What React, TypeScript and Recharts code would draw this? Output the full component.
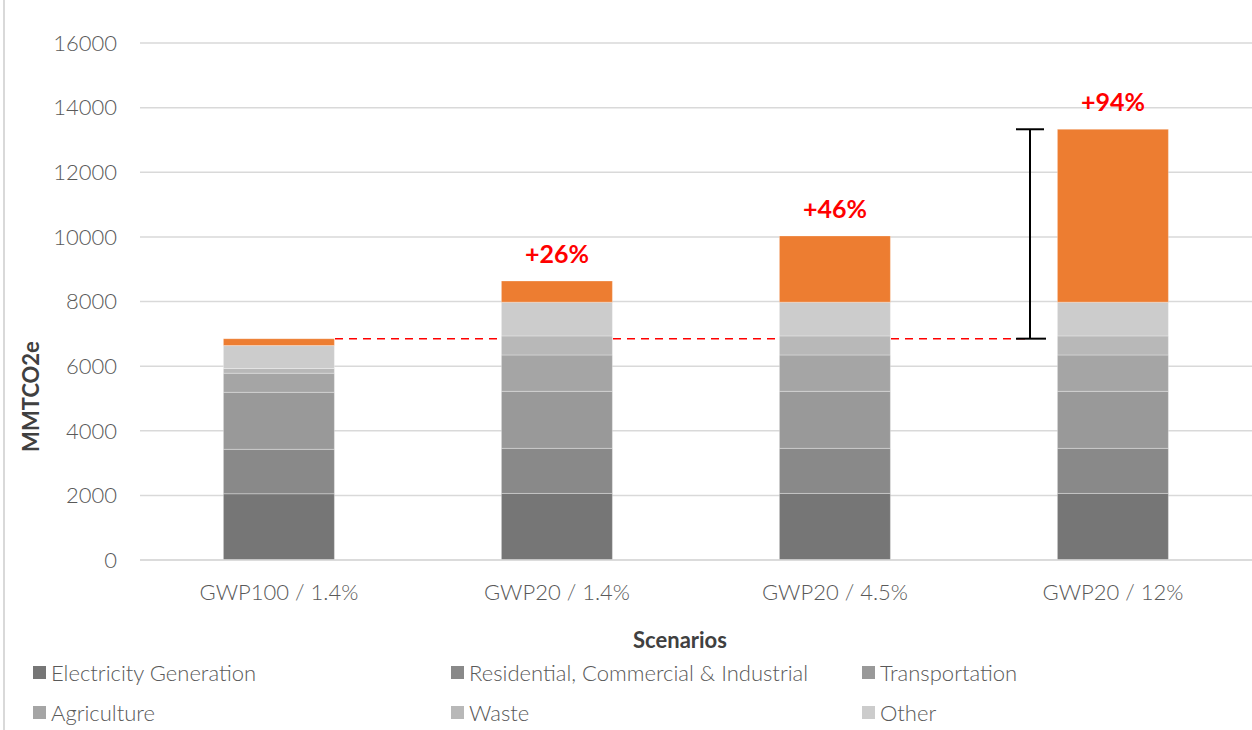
import React from 'react'
import { BarChart, Bar, XAxis, YAxis, CartesianGrid, Legend, ReferenceLine, LabelList } from 'recharts'

const categories = ['GWP100 / 1.4%', 'GWP20 / 1.4%', 'GWP20 / 4.5%', 'GWP20 / 12%']
const electricity = [2050, 2060, 2060, 2060]
const residential = [1375, 1395, 1395, 1395]
const transportation = [1765, 1765, 1765, 1765]
const agriculture = [590, 1125, 1125, 1125]
const waste = [145, 590, 590, 590]
const other = [710, 1045, 1045, 1045]
const extra = [215, 655, 2050, 5350]
const increaseLabels = ['', '+26%', '+46%', '+94%']
const yTicks = [0, 2000, 4000, 6000, 8000, 10000, 12000, 14000, 16000]
const baselineTotal = 6850
const topTotal = 13330

const series = [
  { key: 'electricity', name: 'Electricity Generation', color: '#767676' },
  { key: 'residential', name: 'Residential, Commercial & Industrial', color: '#898989' },
  { key: 'transportation', name: 'Transportation', color: '#999999' },
  { key: 'agriculture', name: 'Agriculture', color: '#a5a5a5' },
  { key: 'waste', name: 'Waste', color: '#b8b8b8' },
  { key: 'other', name: 'Other', color: '#cccccc' },
]

const data = categories.map((c, i) => ({
  scenario: c,
  electricity: electricity[i],
  residential: residential[i],
  transportation: transportation[i],
  agriculture: agriculture[i],
  waste: waste[i],
  other: other[i],
  extra: extra[i],
  label: increaseLabels[i],
}))

const FONT = 'Lato, "Noto Sans", sans-serif'
const HALF_BAR = 56

function renderLegend() {
  const widths = [418, 411, 380]
  return (
    <div style={{ display: 'flex', flexWrap: 'wrap', width: 1219 }}>
      {series.map((s, i) => (
        <div key={s.key} style={{ width: widths[i % 3], height: 40, display: 'flex', alignItems: 'center' }}>
          <span style={{ width: 13, height: 13, background: s.color, display: 'inline-block', marginRight: 5 }} />
          <span style={{ fontFamily: FONT, fontWeight: 300, fontSize: 22, color: '#595959' }}>{s.name}</span>
        </div>
      ))}
    </div>
  )
}

function PercentLabel(props: any) {
  const { x, y, width, value } = props
  if (!value) return null
  return (
    <text x={x + width / 2} y={y - 18} textAnchor="middle" fill="#ff0000" fontFamily={FONT} fontWeight={700} fontSize={25}>
      {value}
    </text>
  )
}

// dashed baseline only shows in the gaps between bars
function GapDash(props: any) {
  const { x1, y1, x2, y2, last } = props
  const end = last ? x2 - 83 : x2 - HALF_BAR
  return <line x1={x1 + HALF_BAR} y1={y1} x2={end} y2={y2} stroke="#ff0000" strokeWidth={1.5} strokeDasharray="8 6" />
}

function RangeShape(props: any) {
  const { x1, y1, y2 } = props
  const x = x1 - 83
  const top = Math.min(y1, y2)
  const bottom = Math.max(y1, y2)
  return (
    <g stroke="#000000" strokeWidth={2}>
      <line x1={x} y1={top} x2={x} y2={bottom} />
      <line x1={x - 14} y1={top} x2={x + 14} y2={top} />
      <line x1={x - 14} y1={bottom} x2={x + 16} y2={bottom} />
    </g>
  )
}

function YLabel(props: any) {
  const { viewBox } = props
  const cx = 30
  const cy = viewBox.y + viewBox.height / 2 + 95
  return (
    <text x={cx} y={cy} transform={`rotate(-90 ${cx} ${cy})`} textAnchor="middle" dominantBaseline="central"
      fill="#404040" fontFamily={FONT} fontWeight={700} fontSize={22}>
      MMTCO2e
    </text>
  )
}

export default function App() {
  return (
    <div style={{ position: 'absolute', left: 0, top: 0, width: 1252, height: 730, background: '#fff' }}>
      <div style={{ position: 'absolute', left: 3, top: 0, width: 2, height: 730, background: '#d9d9d9' }} />
      <BarChart width={1252} height={730} data={data} margin={{ top: 43, right: 0, left: 0, bottom: 140 }} barCategoryGap="30%">
        <CartesianGrid vertical={false} stroke="#d9d9d9" strokeWidth={1.5} />
        <XAxis
          dataKey="scenario"
          axisLine={{ stroke: '#d9d9d9', strokeWidth: 1.5 }}
          tickLine={false}
          tickMargin={18}
          tick={{ fill: '#595959', fontSize: 22, fontFamily: FONT, fontWeight: 300 }}
          label={{ value: 'Scenarios', position: 'insideBottom', offset: -58, dx: -16, fill: '#404040', fontSize: 22, fontWeight: 700, fontFamily: FONT }}
        />
        <YAxis
          width={140}
          domain={[0, 16000]}
          ticks={yTicks}
          axisLine={false}
          tickLine={false}
          tickMargin={17}
          tick={{ fill: '#595959', fontSize: 22, fontFamily: FONT, fontWeight: 300 }}
          label={<YLabel />}
        />
        {series.map(s => (
          <Bar key={s.key} dataKey={s.key} name={s.name} stackId="a" fill={s.color} stroke="#ffffff" strokeOpacity={0.3} strokeWidth={1} isAnimationActive={false} />
        ))}
        <Bar dataKey="extra" name="Additional warming" stackId="a" fill="#ed7d31" stroke="#ffffff" strokeOpacity={0.3} strokeWidth={1} isAnimationActive={false} legendType="none">
          <LabelList dataKey="label" content={<PercentLabel />} />
        </Bar>
        {[0, 1, 2].map(i => (
          <ReferenceLine
            key={i}
            segment={[{ x: categories[i], y: baselineTotal }, { x: categories[i + 1], y: baselineTotal }]}
            shape={<GapDash last={i === 2} />}
          />
        ))}
        <ReferenceLine
          segment={[{ x: categories[3], y: baselineTotal }, { x: categories[3], y: topTotal }]}
          shape={<RangeShape />}
        />
        <Legend
          layout="horizontal"
          verticalAlign="middle"
          align="center"
          content={renderLegend}
          wrapperStyle={{ position: 'absolute', top: 652, left: 33, width: 1219 }}
        />
      </BarChart>
    </div>
  )
}
